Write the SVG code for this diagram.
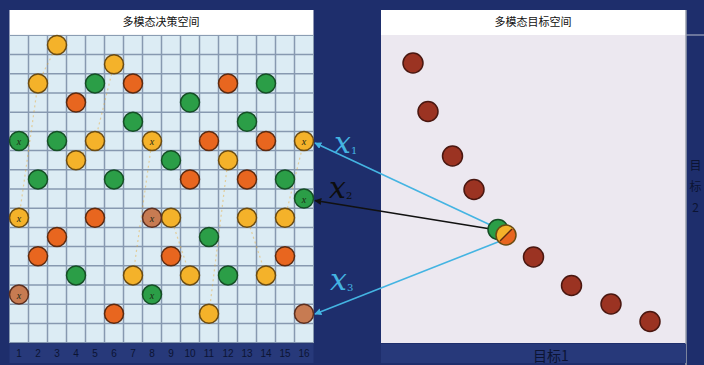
<svg xmlns="http://www.w3.org/2000/svg" width="704" height="365" viewBox="0 0 704 365">
<defs>
<style>
.y{fill:#f4b22a;stroke:#6a4b12;stroke-width:1.5}
.o{fill:#e8661f;stroke:#5c2a0f;stroke-width:1.5}
.g{fill:#2b9e47;stroke:#154e25;stroke-width:1.5}
.b{fill:#c77b52;stroke:#5c3020;stroke-width:1.5}
.r{fill:#9b3322;stroke:#4a1710;stroke-width:1.5}
.cl{font-family:"Liberation Serif",serif;font-style:italic;font-size:10px;fill:#1d2a14;text-anchor:middle}
.ttl{font-family:"Noto Sans CJK SC",sans-serif;font-size:11px;fill:#111;text-anchor:middle}
.num{font-family:"Liberation Sans",sans-serif;font-size:10px;fill:#0c1433;text-anchor:middle}
.ax{font-family:"Noto Sans CJK SC",sans-serif;font-size:14px;fill:#0c1433;text-anchor:middle}
.ax2{font-family:"Noto Sans CJK SC",sans-serif;font-size:12px;fill:#0c1433;text-anchor:middle}
.lbl{font-family:"DejaVu Serif",serif;font-style:italic;font-size:30px}
.sub{font-size:10px;font-style:normal}
.dash{fill:none;stroke:#e8a930;stroke-width:1.2;stroke-dasharray:2 3;opacity:0.45}
</style>
<marker id="ac" viewBox="0 0 10 10" refX="9" refY="5" markerWidth="7" markerHeight="7" orient="auto" markerUnits="userSpaceOnUse">
<path d="M0,0 L10,5 L0,10 z" fill="#44b4e2"/>
</marker>
<marker id="ak" viewBox="0 0 10 10" refX="9" refY="5" markerWidth="7" markerHeight="7" orient="auto" markerUnits="userSpaceOnUse">
<path d="M0,0 L10,5 L0,10 z" fill="#111"/>
</marker>
</defs>
<rect x="0" y="0" width="704" height="365" fill="#1e2e6c"/>

<g id="left-panel">
<rect x="9.5" y="10" width="304" height="25.4" fill="#ffffff"/>
<text class="ttl" x="161" y="26">多模态决策空间</text>
<rect x="9.5" y="35.4" width="304" height="307.2" fill="#dcecf4"/>
<path d="M28.5,35.4V342.6M47.5,35.4V342.6M66.5,35.4V342.6M85.5,35.4V342.6M104.5,35.4V342.6M123.5,35.4V342.6M142.5,35.4V342.6M161.5,35.4V342.6M180.5,35.4V342.6M199.5,35.4V342.6M218.5,35.4V342.6M237.5,35.4V342.6M256.5,35.4V342.6M275.5,35.4V342.6M294.5,35.4V342.6M9.5,54.6H313.5M9.5,73.8H313.5M9.5,93H313.5M9.5,112.2H313.5M9.5,131.4H313.5M9.5,150.6H313.5M9.5,169.8H313.5M9.5,189H313.5M9.5,208.2H313.5M9.5,227.4H313.5M9.5,246.6H313.5M9.5,265.8H313.5M9.5,285H313.5M9.5,304.2H313.5M9.5,323.4H313.5" stroke="#8799b0" stroke-width="1.5" fill="none"/>
<rect x="9.5" y="35.4" width="304" height="307.2" fill="none" stroke="#8799b0" stroke-width="1"/>
<rect x="9.5" y="344" width="304" height="19" fill="#27397a"/>
<text class="num" x="19" y="357">1</text><text class="num" x="38" y="357">2</text><text class="num" x="57" y="357">3</text><text class="num" x="76" y="357">4</text><text class="num" x="95" y="357">5</text><text class="num" x="114" y="357">6</text><text class="num" x="133" y="357">7</text><text class="num" x="152" y="357">8</text><text class="num" x="171" y="357">9</text><text class="num" x="190" y="357">10</text><text class="num" x="209" y="357">11</text><text class="num" x="228" y="357">12</text><text class="num" x="247" y="357">13</text><text class="num" x="266" y="357">14</text><text class="num" x="285" y="357">15</text><text class="num" x="304" y="357">16</text>
<polyline class="dash" points="57,45 38,83.4 19,217.8"/>
<polyline class="dash" points="114,64.2 95,141 76,160.2"/>
<polyline class="dash" points="152,141 133,275.4"/>
<polyline class="dash" points="171,217.8 190,275.4"/>
<polyline class="dash" points="228,160.2 209,313.8"/>
<polyline class="dash" points="247,217.8 266,275.4"/>
<polyline class="dash" points="285,217.8 304,141"/>
</g>

<g id="right-panel">
<rect x="381" y="10" width="305" height="25" fill="#ffffff"/>
<text class="ttl" x="533" y="26">多模态目标空间</text>
<rect x="381" y="35" width="305" height="308" fill="#ece8f0"/>
<line x1="686" y1="35" x2="704" y2="35" stroke="#b8bccc" stroke-width="1"/>
<line x1="686" y1="10" x2="686" y2="365" stroke="#9aa0ae" stroke-width="1.5"/>
<rect x="381" y="344" width="305" height="19" fill="#27397a"/>
<text class="ax" x="551" y="361">目标1</text>
<text class="ax2" x="695.5" y="170">目</text>
<text class="ax2" x="695.5" y="191">标</text>
<text class="ax2" x="695.5" y="212">2</text>
</g>

<g id="decision-points">
<circle class="y" cx="57" cy="45" r="9.5"/>
<circle class="y" cx="114" cy="64.2" r="9.5"/>
<circle class="y" cx="38" cy="83.4" r="9.5"/>
<circle class="g" cx="95" cy="83.4" r="9.5"/>
<circle class="o" cx="133" cy="83.4" r="9.5"/>
<circle class="o" cx="228" cy="83.4" r="9.5"/>
<circle class="g" cx="266" cy="83.4" r="9.5"/>
<circle class="o" cx="76" cy="102.6" r="9.5"/>
<circle class="g" cx="190" cy="102.6" r="9.5"/>
<circle class="g" cx="133" cy="121.8" r="9.5"/>
<circle class="g" cx="247" cy="121.8" r="9.5"/>
<circle class="g" cx="57" cy="141" r="9.5"/>
<circle class="y" cx="95" cy="141" r="9.5"/>
<circle class="o" cx="209" cy="141" r="9.5"/>
<circle class="o" cx="266" cy="141" r="9.5"/>
<circle class="y" cx="76" cy="160.2" r="9.5"/>
<circle class="g" cx="171" cy="160.2" r="9.5"/>
<circle class="y" cx="228" cy="160.2" r="9.5"/>
<circle class="g" cx="38" cy="179.4" r="9.5"/>
<circle class="g" cx="114" cy="179.4" r="9.5"/>
<circle class="o" cx="190" cy="179.4" r="9.5"/>
<circle class="o" cx="247" cy="179.4" r="9.5"/>
<circle class="g" cx="285" cy="179.4" r="9.5"/>
<circle class="o" cx="95" cy="217.8" r="9.5"/>
<circle class="y" cx="171" cy="217.8" r="9.5"/>
<circle class="y" cx="247" cy="217.8" r="9.5"/>
<circle class="y" cx="285" cy="217.8" r="9.5"/>
<circle class="o" cx="57" cy="237" r="9.5"/>
<circle class="g" cx="209" cy="237" r="9.5"/>
<circle class="o" cx="38" cy="256.2" r="9.5"/>
<circle class="o" cx="171" cy="256.2" r="9.5"/>
<circle class="o" cx="285" cy="256.2" r="9.5"/>
<circle class="g" cx="76" cy="275.4" r="9.5"/>
<circle class="y" cx="133" cy="275.4" r="9.5"/>
<circle class="y" cx="190" cy="275.4" r="9.5"/>
<circle class="g" cx="228" cy="275.4" r="9.5"/>
<circle class="y" cx="266" cy="275.4" r="9.5"/>
<circle class="o" cx="114" cy="313.8" r="9.5"/>
<circle class="y" cx="209" cy="313.8" r="9.5"/>
</g>

<g id="x-points">
<g id="x1-a"><circle class="g" cx="19" cy="141" r="9.5"/><text class="cl" x="19" y="145">x</text></g>
<g id="x1-b"><circle class="y" cx="152" cy="141" r="9.5"/><text class="cl" x="152" y="145">x</text></g>
<g id="x1-c"><circle class="y" cx="304" cy="141" r="9.5"/><text class="cl" x="304" y="145">x</text></g>
<g id="x2-c"><circle class="g" cx="304" cy="198.6" r="9.5"/><text class="cl" x="304" y="202.6">x</text></g>
<g id="x2-a"><circle class="y" cx="19" cy="217.8" r="9.5"/><text class="cl" x="19" y="221.8">x</text></g>
<g id="x2-b"><circle class="b" cx="152" cy="217.8" r="9.5"/><text class="cl" x="152" y="221.8">x</text></g>
<g id="x3-a"><circle class="b" cx="19" cy="294.6" r="9.5"/><text class="cl" x="19" y="298.6">x</text></g>
<g id="x3-b"><circle class="g" cx="152" cy="294.6" r="9.5"/><text class="cl" x="152" y="298.6">x</text></g>
<g id="x3-c"><circle class="b" cx="304" cy="313.8" r="9.5"/></g>
</g>

<g id="objective-points">
<circle class="r" cx="413" cy="63" r="10"/>
<circle class="r" cx="428" cy="111.5" r="10"/>
<circle class="r" cx="452.5" cy="156" r="10"/>
<circle class="r" cx="474" cy="189.5" r="10"/>
<circle class="r" cx="533.5" cy="257" r="10"/>
<circle class="r" cx="571.5" cy="285.5" r="10"/>
<circle class="r" cx="611" cy="304" r="10"/>
<circle class="r" cx="650" cy="321.5" r="10"/>
</g>

<g id="connectors">
<line x1="499" y1="229" x2="315" y2="143" stroke="#44b4e2" stroke-width="1.6" marker-end="url(#ac)"/>
<line x1="497" y1="230" x2="315" y2="200.5" stroke="#111" stroke-width="1.6" marker-end="url(#ak)"/>
<line x1="503" y1="240" x2="315" y2="314" stroke="#44b4e2" stroke-width="1.6" marker-end="url(#ac)"/>
</g>

<g id="cluster">
<circle class="g" cx="498" cy="229.5" r="10"/>
<path d="M513.07,227.93 A10,10 0 0 0 498.93,242.07 Z" fill="#f4b22a"/>
<path d="M513.07,227.93 A10,10 0 0 1 498.93,242.07 Z" fill="#e8661f"/>
<line x1="512" y1="229" x2="500" y2="241" stroke="#5c2a0f" stroke-width="1.5"/>
<circle cx="506" cy="235" r="10" fill="none" stroke="#6a4b12" stroke-width="1.5"/>
</g>

<g id="labels">
<text class="lbl" x="334" y="153" fill="#44b4e2">x<tspan class="sub" dy="1">1</tspan></text>
<text class="lbl" x="329" y="198" fill="#0d0d0d">x<tspan class="sub" dy="1">2</tspan></text>
<text class="lbl" x="330" y="290" fill="#44b4e2">x<tspan class="sub" dy="1">3</tspan></text>
</g>
</svg>
